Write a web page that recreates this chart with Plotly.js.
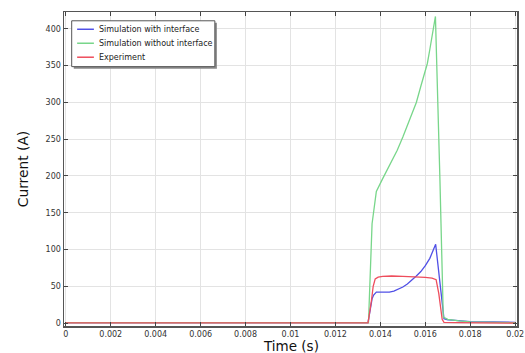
<!DOCTYPE html>
<html>
<head>
<meta charset="utf-8">
<script src="https://cdn.plot.ly/plotly-3.0.1.min.js"></script>
<style>
  html, body { margin: 0; padding: 0; background: #fff; }
  #chart { width: 525px; height: 353px; }
</style>
</head>
<body>
<div id="chart"></div>
<script>
// Current traces over one pulse (time in seconds, current in amperes)
const timeWith = [0, 0.002, 0.004, 0.006, 0.008, 0.010, 0.012, 0.01345, 0.01363, 0.0137, 0.01382, 0.0140, 0.0142, 0.0144, 0.0146, 0.0148, 0.0150, 0.0152, 0.0154, 0.0156, 0.0158, 0.0160, 0.0162, 0.01635, 0.01646, 0.01683, 0.0170, 0.0172, 0.0175, 0.0180, 0.0190, 0.0200];
const currentWith = [0.5, 0.5, 0.5, 0.5, 0.5, 0.5, 0.5, 0.5, 33, 38, 42, 42, 41.5, 42, 43.5, 46, 49, 53, 58, 64, 70, 78, 88, 99, 107, 6, 4.5, 4, 3, 2, 1.5, 1];

const timeWithout = [0, 0.002, 0.004, 0.006, 0.008, 0.010, 0.012, 0.01347, 0.01363, 0.01382, 0.01408, 0.0144, 0.01475, 0.0150, 0.0152, 0.0154, 0.0156, 0.0158, 0.0160, 0.01609, 0.0162, 0.0163, 0.01645, 0.01665, 0.0168, 0.0170, 0.0172, 0.0175, 0.0180, 0.0190, 0.0200];
const currentWithout = [0.5, 0.5, 0.5, 0.5, 0.5, 0.5, 0.5, 0.5, 135, 179, 195, 215, 235, 253, 268, 283, 300, 322, 344, 353, 372, 390, 417, 195, 8, 5, 4, 3, 1.5, 1, 0.5];

const timeExp = [0, 0.002, 0.004, 0.006, 0.008, 0.010, 0.012, 0.01345, 0.0136, 0.01368, 0.01377, 0.0139, 0.0141, 0.0145, 0.0150, 0.0155, 0.0160, 0.0163, 0.01648, 0.0166, 0.01675, 0.01683, 0.0175, 0.0200];
const currentExp = [0.3, 0.3, 0.3, 0.3, 0.3, 0.3, 0.3, 0.3, 30, 50, 60, 62.5, 63.5, 64, 63.5, 63, 62, 61, 59, 40, 5, 1, 0.5, 0];

const seriesNames = ['Simulation with interface', 'Simulation without interface', 'Experiment'];
const seriesColors = ['#5050e6', '#78d68a', '#ee4d5c'];
const xTitle = 'Time (s)';
const yTitle = 'Current (A)';

const traces = [
  { x: timeWith, y: currentWith, name: seriesNames[0] },
  { x: timeWithout, y: currentWithout, name: seriesNames[1] },
  { x: timeExp, y: currentExp, name: seriesNames[2] }
].map((t, i) => Object.assign(t, {
  type: 'scatter',
  mode: 'lines',
  line: { color: seriesColors[i], width: 1.3 },
  showlegend: false,
  hoverinfo: 'skip'
}));

// Compact boxed key in the upper-left corner of the plot area
const key = { x0: 0.017, x1: 0.333, y0: 0.826, y1: 0.972, lineX0: 0.029, lineX1: 0.066, textX: 0.073, rowTop: 0.945, rowStep: 0.0445 };
const shapes = [
  { type: 'rect', xref: 'paper', yref: 'paper', layer: 'above',
    x0: key.x0 + 0.0045, x1: key.x1 + 0.0045, y0: key.y0 - 0.0065, y1: key.y1 - 0.0065,
    line: { width: 0 }, fillcolor: '#8a8a8a' },
  { type: 'rect', xref: 'paper', yref: 'paper', layer: 'above',
    x0: key.x0, x1: key.x1, y0: key.y0, y1: key.y1,
    line: { color: '#555', width: 1 }, fillcolor: '#fff' }
];
const annotations = [];
seriesNames.forEach((name, i) => {
  const yy = key.rowTop - i * key.rowStep;
  shapes.push({ type: 'line', xref: 'paper', yref: 'paper', layer: 'above',
    x0: key.lineX0, x1: key.lineX1, y0: yy, y1: yy,
    line: { color: seriesColors[i], width: 1.5 } });
  annotations.push({ xref: 'paper', yref: 'paper', x: key.textX, y: yy,
    xanchor: 'left', yanchor: 'middle', showarrow: false, text: name,
    font: { family: 'DejaVu Sans', size: 8, color: '#222' } });
});

// x-axis title sits just under the tick labels
annotations.push({ xref: 'paper', yref: 'paper', x: 0.5, y: -0.064,
  xanchor: 'center', yanchor: 'middle', showarrow: false, text: xTitle,
  font: { family: 'DejaVu Sans', size: 13.5, color: '#111' } });

const axisCommon = {
  showline: true,
  linecolor: '#555',
  linewidth: 1.5,
  mirror: 'ticks',
  ticks: 'inside',
  ticklen: 4,
  tickcolor: '#444',
  showgrid: true,
  gridcolor: '#e3e3e3',
  gridwidth: 1,
  zeroline: false,
  ticklabeloverflow: 'allow',
  tickfont: { family: 'DejaVu Sans', size: 8, color: '#333' }
};

const layout = {
  width: 525,
  height: 353,
  margin: { l: 64, r: 8, t: 12, b: 27 },
  paper_bgcolor: '#fff',
  plot_bgcolor: '#fff',
  font: { family: 'DejaVu Sans', color: '#222' },
  showlegend: false,
  shapes: shapes,
  annotations: annotations,
  xaxis: Object.assign({}, axisCommon, {
    range: [-0.00008, 0.02008],
    dtick: 0.002,
    tick0: 0
  }),
  yaxis: Object.assign({}, axisCommon, {
    range: [-4, 423],
    dtick: 50,
    tick0: 0,
    title: { text: yTitle, font: { family: 'DejaVu Sans', size: 13.8, color: '#111' }, standoff: 14 }
  })
};

Plotly.newPlot('chart', traces, layout, { displayModeBar: false, staticPlot: true });
</script>
</body>
</html>
